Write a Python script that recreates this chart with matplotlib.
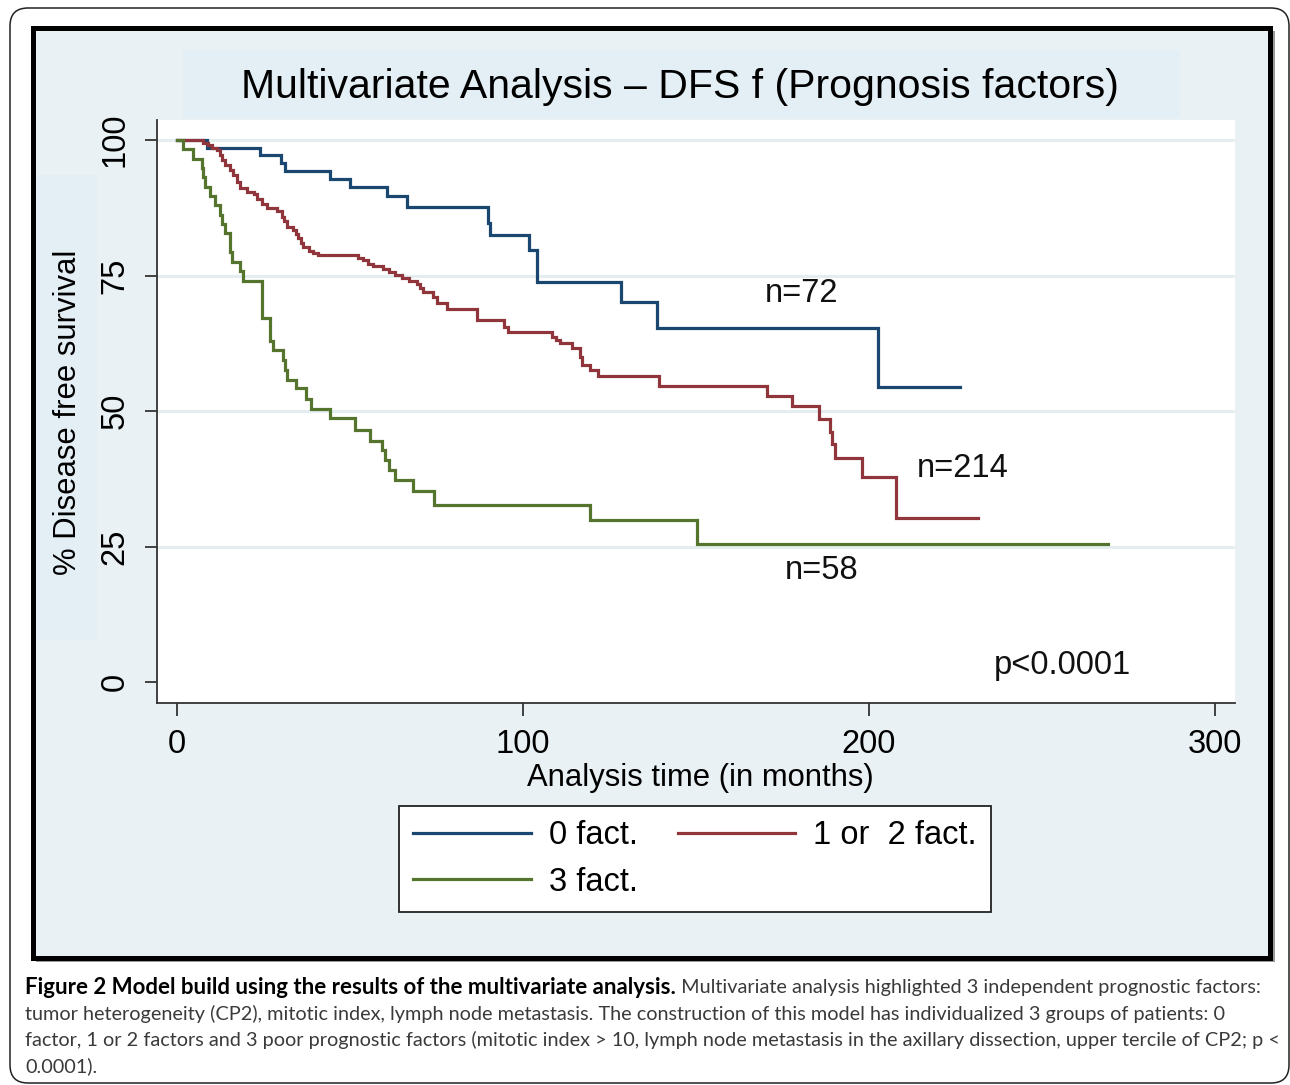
import matplotlib
matplotlib.use('Agg')
import matplotlib.pyplot as plt
from matplotlib.patches import Rectangle, FancyBboxPatch
from matplotlib.lines import Line2D

W, H = 1290, 1085

## DFS curves: time (months) of each step, % after the step
t_zero = [0, 8.7, 24.0, 30.0, 31.2, 44.2, 50.0, 60.7, 66.4, 89.9, 90.5, 101.7, 104.0, 128.2, 138.6, 202.5, 226.3]
s_zero = [100, 98.6, 97.2, 95.8, 94.3, 92.9, 91.4, 89.7, 87.6, 84.7, 82.5, 79.7, 73.8, 70.1, 65.4, 54.5, 54.5]

t_one = [0, 7.6, 9.0, 10.0, 11.5, 12.3, 12.9, 14.0, 15.3, 16.3, 17.2, 18.2, 20.1, 22.1, 23.0, 24.5,
         25.9, 28.8, 30.3, 31.0, 31.7, 33.6, 34.3, 35.1, 35.8, 36.5, 38.0, 39.4, 40.8, 52.4, 53.8,
         55.2, 56.7, 59.6, 61.3, 63.0, 64.9, 67.0, 69.3, 70.3, 71.2, 74.1, 75.1, 78.0, 86.6, 94.5,
         95.8, 108.3, 109.5, 110.7, 114.1, 116.5, 117.0, 119.4, 121.8, 139.3, 170.4, 177.8, 185.6,
         188.7, 189.2, 190.2, 197.9, 207.8, 231.6]
s_one = [100, 99.5, 99.1, 98.6, 98.1, 97.2, 96.3, 95.4, 94.5, 93.5, 92.3, 91.1, 90.5, 90.0, 89.2, 88.3,
         87.4, 86.9, 85.9, 85.0, 84.0, 83.4, 82.7, 81.9, 81.1, 80.3, 79.6, 79.1, 78.8, 78.2, 77.8,
         77.2, 76.7, 76.2, 75.7, 75.2, 74.5, 74.0, 73.5, 72.8, 72.0, 71.1, 69.9, 68.9, 66.8, 65.6,
         64.6, 63.7, 63.1, 62.5, 61.6, 60.0, 58.5, 57.6, 56.5, 54.6, 52.9, 50.9, 48.6,
         46.2, 44.0, 41.3, 37.9, 30.3, 30.3]

t_three = [0, 1.8, 4.7, 7.1, 7.6, 8.1, 9.5, 11.0, 12.4, 12.9, 13.9, 15.3, 15.8, 18.2, 19.2, 24.5,
           26.9, 27.8, 30.7, 31.2, 31.7, 34.4, 37.2, 38.8, 44.2, 51.4, 55.8, 59.1, 60.2, 61.3, 63.0,
           68.3, 74.3, 119.4, 150.2, 269.0]
s_three = [100, 98.3, 96.6, 94.8, 93.1, 91.4, 89.7, 88.0, 86.2, 84.5, 82.8, 79.3, 77.6, 75.9, 74.1, 67.2,
           62.9, 61.3, 59.4, 57.6, 55.7, 54.2, 52.2, 50.5, 48.8, 46.6, 44.6, 42.8, 41.0, 39.2, 37.3,
           35.2, 32.8, 30.0, 25.6, 25.6]

labels = ['0 fact.', '1 or  2 fact.', '3 fact.']
colors = ['#1a476f', '#90353b', '#55752f']
n_labels = ['n=72', 'n=214', 'n=58']
n_pos = [(180.6, 71.8), (227.0, 39.5), (186.4, 20.7)]
y_ticks = [0, 25, 50, 75, 100]
x_ticks = [0, 100, 200, 300]

BG = '#e9f1f4'
BAND = '#e4eff5'
FONT = 'Liberation Sans'


def box(x0, y0, x1, y1, **kw):
    # rectangle given in pixel coords of the reference (y down)
    return Rectangle((x0 / 100, (H - y1) / 100), (x1 - x0) / 100, (y1 - y0) / 100,
                     transform=fig.dpi_scale_trans, **kw)


fig = plt.figure(figsize=(W / 100, H / 100), dpi=100)
fig.patch.set_facecolor('white')

## page frame with rounded corners
page = FancyBboxPatch((10 / 100, (H - 1083) / 100), 1279 / 100, 1075 / 100,
                      boxstyle='round,pad=0,rounding_size=0.18', transform=fig.dpi_scale_trans,
                      facecolor='white', edgecolor='#222222', lw=1.1, zorder=-10)
fig.add_artist(page)
## stata graph region: shadow, border, bands
fig.add_artist(box(36, 31, 1275, 962, facecolor='#9a9a9a', edgecolor='none', zorder=-9))
fig.add_artist(box(33, 28, 1270, 958, facecolor=BG, edgecolor='black', lw=3.6, zorder=-8))
fig.add_artist(box(183, 50, 1180, 118, facecolor=BAND, edgecolor='none', zorder=-7))
fig.add_artist(box(36, 175, 97, 640, facecolor=BAND, edgecolor='none', zorder=-7))

ax = fig.add_axes([157 / W, 1 - 703 / H, (1235 - 157) / W, (703 - 120) / H])
ax.set_facecolor('white')
ax.set_xlim(-5.8, 305.8)
ax.set_ylim(-3.8, 103.7)

for y in y_ticks[1:]:
    ax.axhline(y, color='#e4eef1', lw=2.2, zorder=1)

for t, s, c in [(t_zero, s_zero, colors[0]), (t_one, s_one, colors[1]), (t_three, s_three, colors[2])]:
    ax.step(t, s, where='post', color=c, lw=2.3, zorder=3, solid_joinstyle='miter')

for txt, (x, y) in zip(n_labels, n_pos):
    ax.text(x, y, txt, fontsize=23.5, family=FONT, ha='center', va='center', color='#111111')
ax.text(255.8, 3.1, 'p<0.0001', fontsize=23.5, family=FONT, ha='center', va='center', color='#111111')

for side in ['top', 'right']:
    ax.spines[side].set_visible(False)
for side in ['left', 'bottom']:
    ax.spines[side].set_color('#333333')
    ax.spines[side].set_linewidth(1.3)

ax.set_xticks(x_ticks)
ax.set_xticklabels([str(v) for v in x_ticks], fontsize=23.5, family=FONT)
ax.set_yticks(y_ticks)
ax.set_yticklabels([str(v) for v in y_ticks], fontsize=23.5, family=FONT, rotation=90, va='center')
ax.tick_params(axis='both', length=9, width=1.3, color='#333333')
ax.tick_params(axis='x', pad=10)
ax.tick_params(axis='y', pad=10)

fig.text(680 / W, 1 - 87 / H, 'Multivariate Analysis \u2013 DFS f (Prognosis factors)',
         fontsize=29.5, family=FONT, ha='center', va='center')
fig.text(700 / W, 1 - 778 / H, 'Analysis time (in months)', fontsize=22.3, family=FONT,
         ha='center', va='center')
fig.text(68 / W, 1 - 412 / H, '% Disease free survival', fontsize=22.3, family=FONT,
         ha='center', va='center', rotation=90)

## legend (ncol=2 fills by column, so order blue, green, red)
handles = [Line2D([], [], color=colors[0], lw=2.3),
           Line2D([], [], color=colors[2], lw=2.3),
           Line2D([], [], color=colors[1], lw=2.3)]
leg = fig.legend(handles, [labels[0], labels[2], labels[1]], ncol=2, loc='center',
                 bbox_to_anchor=(695 / W, 1 - 859 / H), prop={'family': FONT, 'size': 23.5},
                 frameon=True, fancybox=False, framealpha=1, edgecolor='#222222',
                 handlelength=3.6, handletextpad=0.55, columnspacing=1.22, labelspacing=0.47,
                 borderpad=0.45)
leg.get_frame().set_linewidth(1.3)

## caption
cap_font = 'Lato'
bold = 'Figure 2 Model build using the results of the multivariate analysis.'
rest = ' Multivariate analysis highlighted 3 independent prognostic factors:'
lines = ['tumor heterogeneity (CP2), mitotic index, lymph node metastasis. The construction of this model has individualized 3 groups of patients: 0',
         'factor, 1 or 2 factors and 3 poor prognostic factors (mitotic index > 10, lymph node metastasis in the axillary dissection, upper tercile of CP2; p <',
         '0.0001).']
b = fig.text(25 / W, 1 - 988 / H, bold, fontsize=16, family=cap_font, fontweight='bold',
             va='center', color='black')
fig.canvas.draw()
bb = b.get_window_extent(fig.canvas.get_renderer())
fig.text(bb.x1 / W, 1 - 988 / H, rest, fontsize=14.3, family=cap_font, va='center', color='#3a3a3a')
for i, line in enumerate(lines):
    fig.text(25 / W, 1 - (1014 + 26 * i) / H, line, fontsize=14.3, family=cap_font,
             va='center', color='#3a3a3a')

fig.savefig('out.png', dpi=100, facecolor='white')
